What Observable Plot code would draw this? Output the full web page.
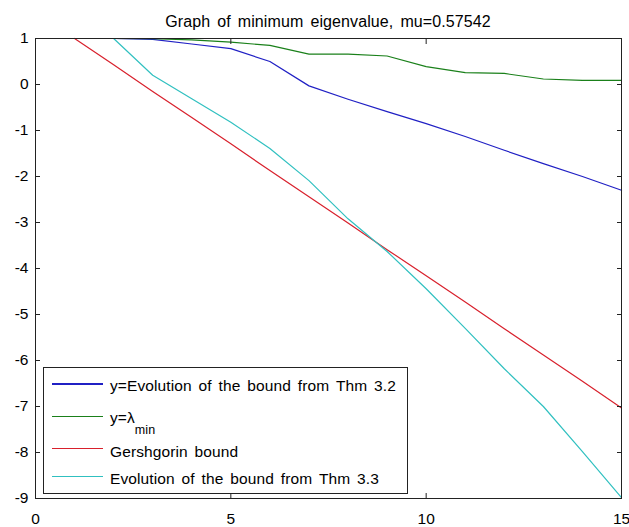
<!DOCTYPE html>
<html><head><meta charset="utf-8">
<script src="https://cdn.jsdelivr.net/npm/d3@7"></script>
<script src="https://cdn.jsdelivr.net/npm/@observablehq/plot@0.6"></script>
<style>
body{margin:0;background:#fff;}
#wrap{position:relative;width:629px;height:527px;font-family:"Liberation Sans",Arial,sans-serif;color:#000;}
#title{position:absolute;left:35px;width:586px;top:12px;text-align:center;font-size:16px;line-height:20px;word-spacing:2.5px;letter-spacing:0.1px;white-space:nowrap;}
#legend{position:absolute;left:43px;top:367px;width:365px;height:127px;box-sizing:border-box;border:1px solid #222;background:#fff;}
.lrow{position:absolute;left:0;}
.lline{position:absolute;left:8px;width:51px;height:1.3px;}
.ltext{position:absolute;left:66px;font-size:15.5px;line-height:18px;white-space:nowrap;word-spacing:2.5px;letter-spacing:0.1px;}
.ltext sub{font-size:12.5px;vertical-align:-11px;line-height:0;}
</style></head><body>
<div id="wrap"><div id="chart"></div><div id="title"></div><div id="legend"></div></div>
<script>
// ---- data ----
const titleText = "Graph of minimum eigenvalue, mu=0.57542";
const n = [1, 2, 3, 4, 5, 6, 7, 8, 9, 10, 11, 12, 13, 14, 15];
const boundThm32 = [1, 1, 0.98, 0.88, 0.78, 0.5, -0.03, -0.32, -0.59, -0.85, -1.13, -1.43, -1.72, -2.0, -2.30];
const lambdaMin  = [1, 1, 0.995, 0.97, 0.92, 0.85, 0.66, 0.66, 0.62, 0.39, 0.26, 0.24, 0.12, 0.09, 0.09];
const gershgorin = [1, 0.43, -0.15, -0.72, -1.29, -1.87, -2.44, -3.01, -3.59, -4.16, -4.73, -5.31, -5.88, -6.45, -7.03];
const boundThm33 = [1, 1, 0.2, -0.31, -0.82, -1.39, -2.09, -2.92, -3.63, -4.44, -5.30, -6.18, -7.0, -7.98, -8.98];
const seriesNames = ["y=Evolution of the bound from Thm 3.2", "y=\u03bb<sub>min</sub>", "Gershgorin bound", "Evolution of the bound from Thm 3.3"];
const seriesColors = ["#2020c4", "#1a801a", "#d8202c", "#30c0c0"];
const xTicks = [0, 5, 10, 15];
const yTicks = [1, 0, -1, -2, -3, -4, -5, -6, -7, -8, -9];

const seriesValues = [boundThm32, lambdaMin, gershgorin, boundThm33];
const rows = seriesValues.map(vals => n.map((x, i) => ({x, y: vals[i]})));

const chart = Plot.plot({
  width: 629, height: 527,
  marginLeft: 35, marginRight: 8, marginTop: 38, marginBottom: 29,
  x: {domain: [0, 15]},
  y: {domain: [-9, 1]},
  style: {fontFamily: "'Liberation Sans', Arial, sans-serif", fontSize: "15.5px", color: "#000", background: "#fff"},
  marks: [
    ...rows.map((r, i) => Plot.line(r, {x: "x", y: "y", stroke: seriesColors[i], strokeWidth: 1.2})),
    Plot.frame({stroke: "#222", strokeWidth: 1}),
    Plot.axisY(yTicks, {anchor: "left", tickSize: -5, tickPadding: 12, tickFormat: d => String(d), label: null, stroke: "#222"}),
    Plot.axisY(yTicks, {anchor: "right", tickSize: -5, tickFormat: () => "", label: null, stroke: "#222"}),
    Plot.axisX(xTicks, {anchor: "bottom", tickSize: -5, tickPadding: 19, tickFormat: d => String(d), label: null, stroke: "#222"}),
    Plot.axisX(xTicks, {anchor: "top", tickSize: -5, tickFormat: () => "", label: null, stroke: "#222"})
  ]
});
document.getElementById("chart").appendChild(chart);
document.getElementById("title").textContent = titleText;

const legend = document.getElementById("legend");
const lineTops = [16, 48.7, 80.3, 108.7];
const textTops = [8.6, 41, 74.6, 102];
seriesNames.forEach((name, i) => {
  const l = document.createElement("div");
  l.className = "lline";
  l.style.top = (lineTops[i] - 0.6) + "px";
  l.style.background = seriesColors[i];
  legend.appendChild(l);
  const t = document.createElement("div");
  t.className = "ltext";
  t.style.top = textTops[i] + "px";
  t.innerHTML = name;
  legend.appendChild(t);
});
</script>
</body></html>
